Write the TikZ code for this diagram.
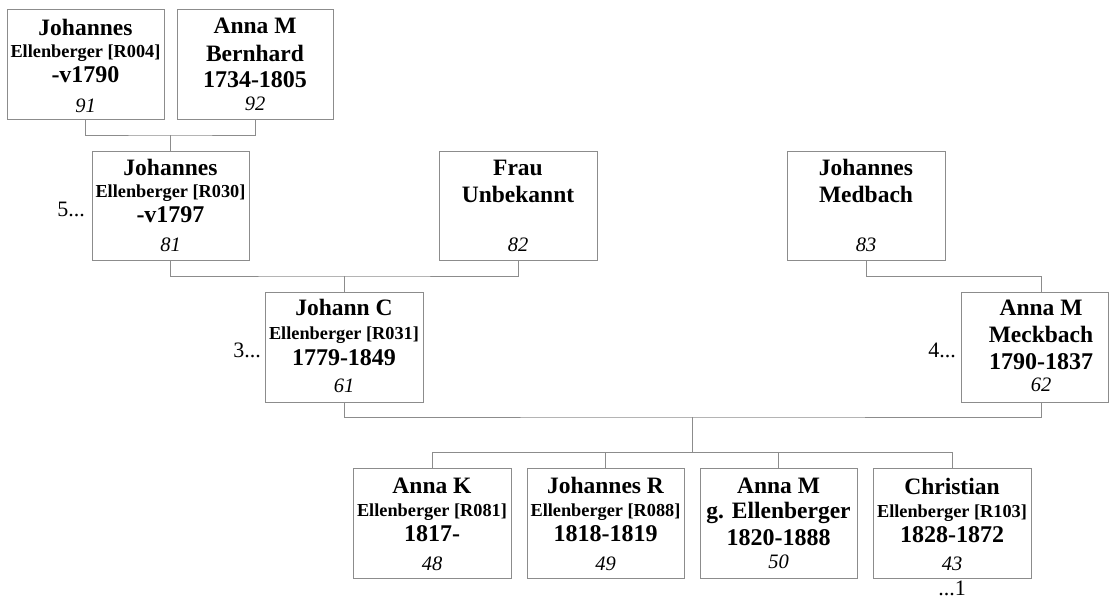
\documentclass[tikz,border=0pt]{standalone}
\usepackage{fontspec}
\setmainfont{Liberation Serif}
\usetikzlibrary{calc}
\definecolor{linegray}{RGB}{140,140,140}
\tikzset{
  box/.style={draw=linegray, line width=1pt, minimum width=157pt, minimum height=110pt, inner sep=0pt, outer sep=0pt},
  conn/.style={draw=linegray, line width=1pt},
  nm/.style={font=\bfseries\fontsize{23.5}{23.5}\selectfont, anchor=base, inner sep=0pt},
  sm/.style={font=\bfseries\fontsize{18.3}{18.3}\selectfont, anchor=base, inner sep=0pt},
  yr/.style={font=\bfseries\fontsize{24}{24}\selectfont, anchor=base, inner sep=0pt},
  num/.style={font=\itshape\fontsize{20.5}{20.5}\selectfont, anchor=base, inner sep=0pt},
  lbl/.style={font=\fontsize{22}{22}\selectfont, inner sep=0pt}
}
\begin{document}
\begin{tikzpicture}[x=1pt,y=-1pt]
\useasboundingbox[fill=white] (0,0) rectangle (1109,600);

% ---- generation 1
\node[box] (b91) at (85.5,64) {};
\node[nm]  (t91a) at ([yshift=-26pt]b91.north) {Johannes};
\node[sm]  (t91b) at ([yshift=-48pt]b91.north) {Ellenberger [R004]};
\node[yr]  (t91c) at ([yshift=-73pt]b91.north) {-v1790};
\node[num] (t91d) at ([yshift=-103pt]b91.north) {91};

\node[box, minimum width=156pt] (b92) at (255,64) {};
\node[nm]  (t92a) at ([yshift=-24pt]b92.north) {Anna M};
\node[nm]  (t92b) at ([yshift=-52pt]b92.north) {Bernhard};
\node[yr]  (t92c) at ([yshift=-78pt]b92.north) {1734-1805};
\node[num] (t92d) at ([yshift=-101pt]b92.north) {92};

% ---- generation 2
\node[box, minimum height=109pt] (b81) at (170.5,205.5) {};
\node[nm]  (t81a) at ([yshift=-24pt]b81.north) {Johannes};
\node[sm]  (t81b) at ([yshift=-46pt]b81.north) {Ellenberger [R030]};
\node[yr]  (t81c) at ([yshift=-71pt]b81.north) {-v1797};
\node[num] (t81d) at ([yshift=-100pt]b81.north) {81};
\node[lbl, anchor=base east] (l5) at (85,216) {5...};

\node[box, minimum width=158pt, minimum height=109pt] (b82) at (518,205.5) {};
\node[nm]  (t82a) at ([yshift=-24pt]b82.north) {Frau};
\node[nm]  (t82b) at ([yshift=-51pt]b82.north) {Unbekannt};
\node[num] (t82d) at ([yshift=-100pt]b82.north) {82};

\node[box, minimum width=158pt, minimum height=109pt] (b83) at (866,205.5) {};
\node[nm]  (t83a) at ([yshift=-24pt]b83.north) {Johannes};
\node[nm]  (t83b) at ([yshift=-51pt]b83.north) {Medbach};
\node[num] (t83d) at ([yshift=-100pt]b83.north) {83};

% ---- generation 3
\node[box, minimum width=158pt] (b61) at (344,347) {};
\node[nm]  (t61a) at ([yshift=-23pt]b61.north) {Johann C};
\node[sm]  (t61b) at ([yshift=-47pt]b61.north) {Ellenberger [R031]};
\node[yr]  (t61c) at ([yshift=-73pt]b61.north) {1779-1849};
\node[num] (t61d) at ([yshift=-100pt]b61.north) {61};
\node[lbl, anchor=base east] (l3) at (261,357) {3...};

\node[box, minimum width=147pt] (b62) at (1034.5,347) {};
\node[nm]  (t62a) at ([xshift=6.5pt,yshift=-23pt]b62.north) {Anna M};
\node[nm]  (t62b) at ([xshift=6.5pt,yshift=-50pt]b62.north) {Meckbach};
\node[yr]  (t62c) at ([xshift=6.5pt,yshift=-77pt]b62.north) {1790-1837};
\node[num] (t62d) at ([xshift=6.5pt,yshift=-99pt]b62.north) {62};
\node[lbl, anchor=base east] (l4) at (956,357) {4...};

% ---- children
\node[box, minimum width=158pt] (b48) at (432,523) {};
\node[nm]  (t48a) at ([yshift=-25pt]b48.north) {Anna K};
\node[sm]  (t48b) at ([yshift=-48pt]b48.north) {Ellenberger [R081]};
\node[yr]  (t48c) at ([yshift=-73pt]b48.north) {1817-};
\node[num] (t48d) at ([yshift=-102pt]b48.north) {48};

\node[box] (b49) at (605.5,523) {};
\node[nm]  (t49a) at ([yshift=-25pt]b49.north) {Johannes R};
\node[sm]  (t49b) at ([yshift=-48pt]b49.north) {Ellenberger [R088]};
\node[yr]  (t49c) at ([yshift=-73pt]b49.north) {1818-1819};
\node[num] (t49d) at ([yshift=-102pt]b49.north) {49};

\node[box] (b50) at (778.5,523) {};
\node[nm]  (t50a) at ([yshift=-25pt]b50.north) {Anna M};
\node[nm]  (t50b) at ([yshift=-50pt]b50.north) {g. Ellenberger};
\node[yr]  (t50c) at ([yshift=-77pt]b50.north) {1820-1888};
\node[num] (t50d) at ([yshift=-100pt]b50.north) {50};

\node[box, minimum width=158pt] (b43) at (952,523) {};
\node[nm]  (t43a) at ([yshift=-26pt]b43.north) {Christian};
\node[sm]  (t43b) at ([yshift=-49pt]b43.north) {Ellenberger [R103]};
\node[yr]  (t43c) at ([yshift=-74pt]b43.north) {1828-1872};
\node[num] (t43d) at ([yshift=-102pt]b43.north) {43};
\node[lbl, anchor=base] (l1) at ([yshift=-17pt]b43.south) {...1};

% ---- connectors
\coordinate (m1) at ($(b91.south)!0.5!(b92.south)+(0,16)$);
\draw[conn] (b91.south) |- (m1) -| (b92.south);
\draw[conn] (m1) -- (m1 |- b81.north);

\coordinate (m2) at ($(b81.south)!0.5!(b82.south)+(0,16)$);
\draw[conn] (b81.south) |- (m2) -| (b82.south);
\draw[conn] (m2) -- (m2 |- b61.north);

\coordinate (p62t) at (b62.north -| t62a);
\coordinate (p62b) at (b62.south -| t62a);
\draw[conn] (b83.south) -- ++(0,16) -| (p62t);

\coordinate (m4) at ($(b61.south)!0.5!(p62b)+(0,15)$);
\draw[conn] (b61.south) |- (m4) -| (p62b);
\draw[conn] (m4) -- ++(0,35) coordinate (m5);
\draw[conn] (b48.north) -- ++(0,-16) -| (b43.north);
\draw[conn] (b49.north) -- ++(0,-16);
\draw[conn] (b50.north) -- ++(0,-16);
\end{tikzpicture}
\end{document}
